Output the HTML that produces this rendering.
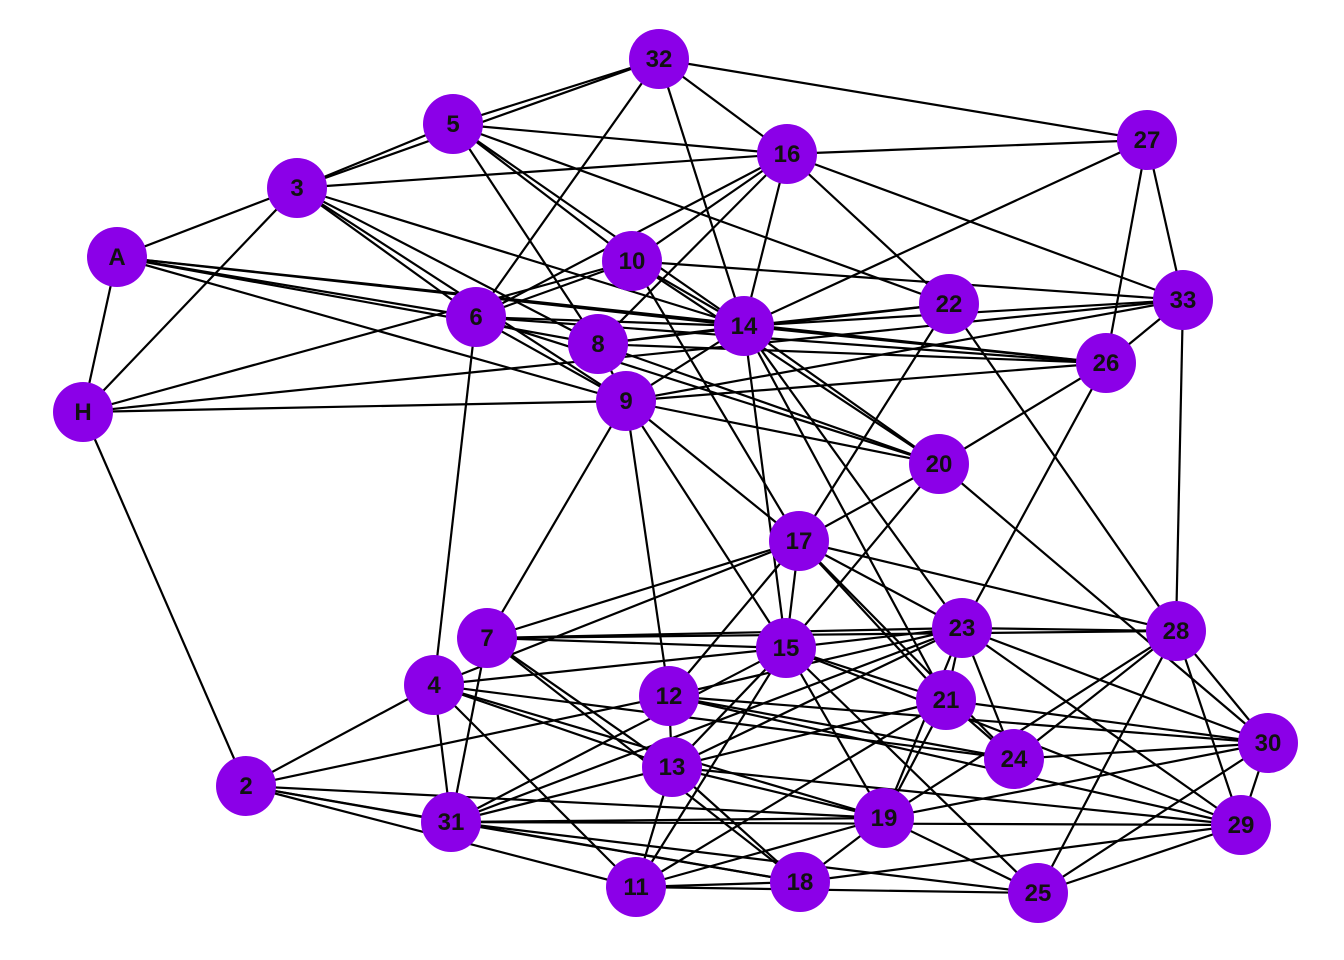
<!DOCTYPE html>
<html><head><meta charset="utf-8"><style>
html,body{margin:0;padding:0;background:#fff;width:1344px;height:960px;overflow:hidden}
svg text{font-family:"Liberation Sans",Arial,sans-serif;font-weight:bold;font-size:24px;fill:#111}
</style></head><body>
<svg id="g" width="1344" height="960" xmlns="http://www.w3.org/2000/svg">
<g id="e" stroke="#000" stroke-width="2.2"></g>
<g id="n"></g>
</svg>
<script>
const P={"32":[659,59],"5":[453,124],"16":[787,154],"27":[1147,140],"3":[297,188],"A":[117,257],"10":[632,261],"22":[949,304],"33":[1183,300],"6":[476,317],"14":[744,326],"8":[598,344],"26":[1106,363],"H":[83,412],"9":[626,401],"20":[939,464],"17":[799,541],"7":[487,638],"15":[786,648],"23":[962,628],"28":[1176,631],"4":[434,685],"12":[669,696],"21":[946,700],"30":[1268,743],"24":[1014,759],"13":[672,767],"2":[246,786],"19":[884,818],"31":[451,822],"29":[1241,825],"18":[800,882],"11":[636,887],"25":[1038,893]};
const E=`32-5 32-3 32-16 32-27 32-14 32-6 5-3 5-16 5-22 5-10 5-8 5-14 3-16 3-A 3-H 3-6 3-9 3-14 3-8
A-H A-6 A-14 A-9 A-8 A-26 H-10 H-9 H-33 H-2 16-10 16-6 16-8 16-14 16-22 16-33 16-27 27-14 27-26 27-33
10-33 10-14 10-17 10-20 10-6 22-14 22-8 22-17 22-28 33-9 33-26 33-28 33-14 6-14 6-26 6-9 6-20 6-4
14-8 14-9 14-20 14-15 14-23 14-21 14-26 8-26 8-20 8-9 26-20 26-23 9-26 9-20 9-7 9-12 9-15 9-17
20-17 20-15 20-30 17-7 17-4 17-15 17-21 17-23 17-28 17-12 17-24 7-15 7-23 7-28 7-13 7-31 7-18
15-4 15-21 15-23 15-13 15-11 15-19 15-25 15-29 15-31 23-28 23-12 23-13 23-24 23-29 23-19 23-30 23-21 23-31
28-30 28-29 28-19 28-24 28-25 4-2 4-31 4-11 4-13 4-24 4-19 12-2 12-30 12-24 12-29 12-13
21-30 21-13 21-19 21-24 13-31 13-11 13-18 13-19 13-29 2-31 2-11 2-18 2-19 31-19 31-29 31-18 31-25
19-11 19-30 19-18 19-25 30-24 30-29 30-25 29-18 29-25 11-18 11-25 11-21`.trim().split(/\s+/);
const ns="http://www.w3.org/2000/svg";
const eg=document.getElementById("e"),ng=document.getElementById("n");
for(const s of E){const[a,b]=s.split("-");const l=document.createElementNS(ns,"line");
l.setAttribute("x1",P[a][0]);l.setAttribute("y1",P[a][1]);l.setAttribute("x2",P[b][0]);l.setAttribute("y2",P[b][1]);eg.appendChild(l);}
for(const k in P){const c=document.createElementNS(ns,"circle");c.setAttribute("cx",P[k][0]);c.setAttribute("cy",P[k][1]);c.setAttribute("r",30);c.setAttribute("fill","#8b00e8");ng.appendChild(c);
const t=document.createElementNS(ns,"text");t.setAttribute("x",P[k][0]);t.setAttribute("y",P[k][1]+8);t.setAttribute("text-anchor","middle");t.textContent=k;ng.appendChild(t);}
</script>
</body></html>
